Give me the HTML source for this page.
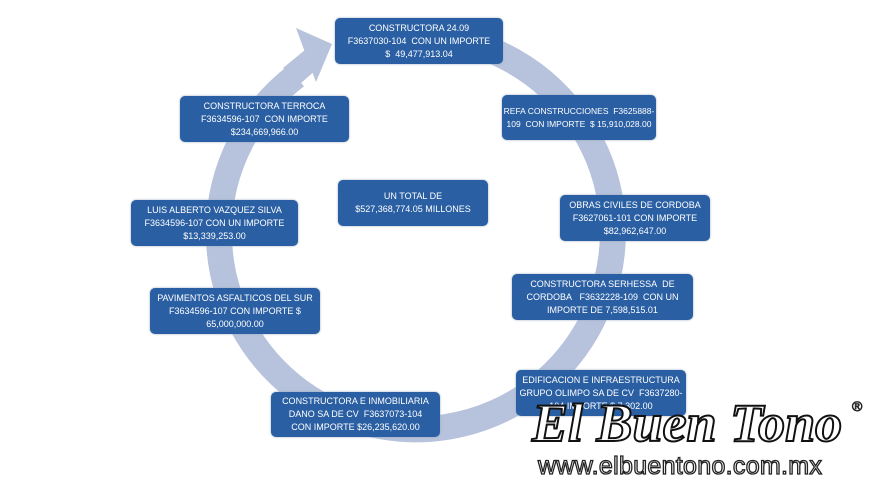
<!DOCTYPE html>
<html><head><meta charset="utf-8"><style>
body{margin:0;width:880px;height:490px;background:#fff;position:relative;overflow:hidden;font-family:"Liberation Sans",sans-serif}
.b{position:absolute;background:#2a5fa3;color:#fff;border-radius:5px;font-size:9px;line-height:13px;text-align:center;display:flex;flex-direction:column;justify-content:center;white-space:nowrap;box-shadow:0 0 2px #9ab}
.logo{position:absolute;left:532px;top:392px;font-family:"Liberation Serif",serif;font-weight:bold;font-style:italic;font-size:54px;color:#fff;-webkit-text-stroke:2px #111}
.url{position:absolute;left:538px;top:452px;font-size:25px;color:#fff;-webkit-text-stroke:1.3px #222;letter-spacing:0.3px}
</style></head><body>
<svg width="880" height="490" style="position:absolute;left:0;top:0">
<path d="M 432 36 A 197 197 0 1 1 296 76" fill="none" stroke="#b7c2dc" stroke-width="26"/>
<polygon points="296,28 332,44 316,82" fill="#b7c2dc"/>
<polygon points="283,68 305,50 318,68 300,84" fill="#b7c2dc"/>
</svg>
<div class="b" style="left:335px;top:18px;width:168px;height:46px">CONSTRUCTORA 24.09<br>F3637030-104&nbsp; CON UN IMPORTE<br>$&nbsp; 49,477,913.04</div>
<div class="b" style="left:502px;top:95px;width:154px;height:45px;font-size:8.5px">REFA CONSTRUCCIONES&nbsp; F3625888-<br>109&nbsp; CON IMPORTE&nbsp; $ 15,910,028.00</div>
<div class="b" style="left:560px;top:195px;width:150px;height:46px">OBRAS CIVILES DE CORDOBA<br>F3627061-101 CON IMPORTE<br>$82,962,647.00</div>
<div class="b" style="left:512px;top:274px;width:181px;height:46px">CONSTRUCTORA SERHESSA&nbsp; DE<br>CORDOBA&nbsp;&nbsp; F3632228-109&nbsp; CON UN<br>IMPORTE DE 7,598,515.01</div>
<div class="b" style="left:516px;top:370px;width:170px;height:46px">EDIFICACION E INFRAESTRUCTURA<br>GRUPO OLIMPO SA DE CV&nbsp; F3637280-<br>104 IMPORTE $ 7,302.00</div>
<div class="b" style="left:271px;top:392px;width:169px;height:45px">CONSTRUCTORA E INMOBILIARIA<br>DANO SA DE CV&nbsp; F3637073-104<br>CON IMPORTE $26,235,620.00</div>
<div class="b" style="left:150px;top:288px;width:170px;height:46px">PAVIMENTOS ASFALTICOS DEL SUR<br>F3634596-107 CON IMPORTE $<br>65,000,000.00</div>
<div class="b" style="left:131px;top:200px;width:167px;height:46px">LUIS ALBERTO VAZQUEZ SILVA<br>F3634596-107 CON UN IMPORTE<br>$13,339,253.00</div>
<div class="b" style="left:180px;top:96px;width:169px;height:46px">CONSTRUCTORA TERROCA<br>F3634596-107&nbsp; CON IMPORTE<br>$234,669,966.00</div>
<div class="b" style="left:338px;top:180px;width:150px;height:46px">UN TOTAL DE<br>$527,368,774.05 MILLONES</div>
<div class="logo">El Buen Tono</div>
<div style="position:absolute;left:852px;top:398px;font-size:14px;color:#fff;-webkit-text-stroke:0.8px #222">®</div>
<div class="url">www.elbuentono.com.mx</div>
</body></html>
